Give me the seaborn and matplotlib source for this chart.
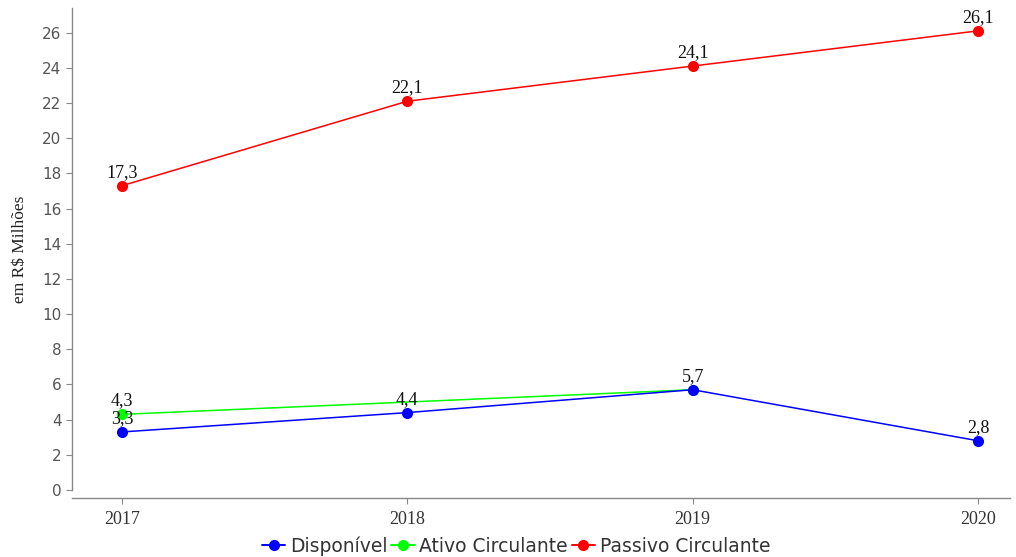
import numpy as np
import pandas as pd
import matplotlib
matplotlib.use("Agg")
import matplotlib.pyplot as plt
import seaborn as sns
from matplotlib.lines import Line2D

anos = [2017, 2018, 2019, 2020]
disponivel = [3.3, 4.4, 5.7, 2.8]
ativo_circulante = [4.3, np.nan, 5.7, np.nan]
passivo_circulante = [17.3, 22.1, 24.1, 26.1]
series = ["Disponível", "Ativo Circulante", "Passivo Circulante"]
cores = {"Disponível": "#0000ff", "Ativo Circulante": "#00ff00", "Passivo Circulante": "#ff0000"}
y_ticks = list(range(0, 27, 2))

df = pd.DataFrame({
    "ano": anos * 3,
    "valor": disponivel + ativo_circulante + passivo_circulante,
    "serie": [s for s in series for _ in anos],
}).dropna()

sns.set_style("white")
plt.rcParams["font.family"] = ["DejaVu Sans"]

fig = plt.figure(figsize=(10.16, 5.57), dpi=100)
ax = fig.add_axes([72 / 1016, 1 - 490 / 557, 938 / 1016, 482 / 557])

# verde desenhado primeiro, azul por cima
sns.lineplot(data=df, x="ano", y="valor", hue="serie",
             hue_order=["Ativo Circulante", "Disponível", "Passivo Circulante"],
             palette=cores, marker="o", markersize=8, markeredgewidth=0,
             linewidth=1.1, legend=False, ax=ax, sort=True)

# rótulos de valores
labels = [("Disponível", disponivel), ("Ativo Circulante", [4.3, np.nan, np.nan, np.nan]),
          ("Passivo Circulante", passivo_circulante)]
for nome, vals in labels:
    for a, v in zip(anos, vals):
        if np.isnan(v):
            continue
        ax.annotate(f"{v:.1f}".replace(".", ","), (a, v), xytext=(0, 3.5),
                    textcoords="offset points", ha="center", va="bottom",
                    fontsize=13, family="Liberation Serif", color="#111111")

# spines antes dos ticks (set_position recria os ticks)
for s in ["top", "right"]:
    ax.spines[s].set_visible(False)
ax.spines["bottom"].set_position(("outward", 6))
for s in ["left", "bottom"]:
    ax.spines[s].set_color("#888888")
    ax.spines[s].set_linewidth(1.0)

ax.set_xlim(2017 - 50 / 285.3, 2020 + 32 / 285.3)
ax.set_ylim(0, 27.4)
ax.set_xticks(anos)
ax.set_xticklabels([str(a) for a in anos], family="Liberation Serif", fontsize=13, color="#333333")
ax.set_yticks(y_ticks)
ax.set_yticklabels([str(t) for t in y_ticks], fontsize=11, color="#555555")
ax.set_xlabel("")
ax.set_ylabel("em R$ Milhões", family="Liberation Serif", fontsize=12.5, color="#222222", labelpad=10)

ax.tick_params(axis="both", direction="out", length=4, width=0.8, color="#888888", bottom=True, left=True)
ax.tick_params(axis="x", pad=5)

handles = [Line2D([0], [0], color=cores[s], marker="o", markersize=8, markeredgewidth=0, linewidth=1.4)
           for s in series]
fig.legend(handles, series, loc="center", bbox_to_anchor=(0.508, 1 - 546 / 557), ncol=3,
           frameon=False, fontsize=13.5, handlelength=1.25, handletextpad=0.25, columnspacing=0.2,
           labelcolor="#333333")

fig.savefig("out.png", dpi=100)
